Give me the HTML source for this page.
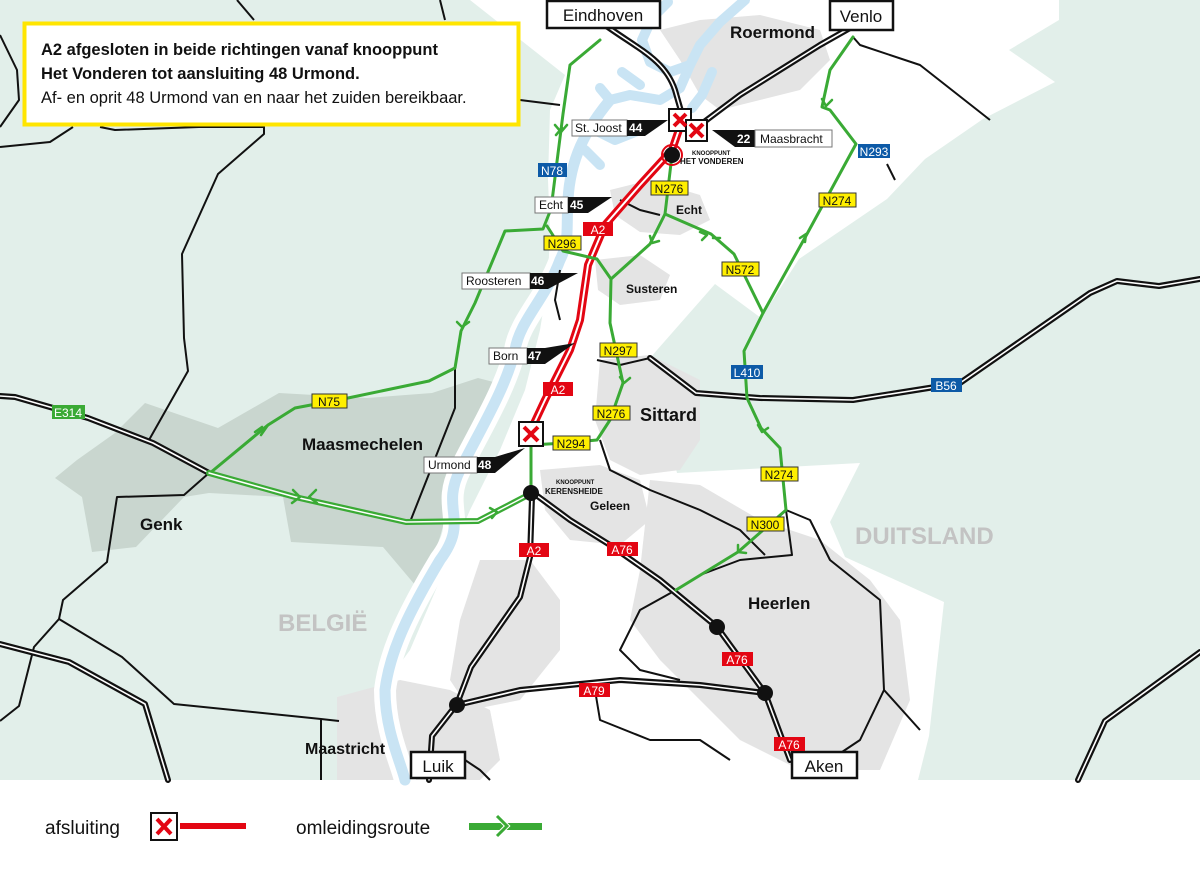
<!DOCTYPE html>
<html><head><meta charset="utf-8"><style>
html,body{margin:0;padding:0;background:#fff}
svg{display:block;font-family:"Liberation Sans",sans-serif}
</style></head><body>
<svg width="1200" height="875" viewBox="0 0 1200 875" xmlns="http://www.w3.org/2000/svg">
<rect x="0" y="0" width="1200" height="780" fill="#e2efea"/>
<!-- NL white -->
<polygon fill="#fff" points="470,0 1059,0 1059,20 1009,50 1055,82 983,119 925,159 887,199 799,259 761,318 715,284 650,358 677,473 860,463 830,522 845,557 944,602 929,736 918,780 337,780 337,697 383,687 410,650 440,580 470,510 500,450 525,390 540,330 548,280 550,230 548,180 550,110 565,75"/>
<!-- Belgian urban -->
<polygon fill="#c9d6cf" points="77,460 115,433 145,403 218,428 279,393 367,398 432,393 478,378 509,386 459,468 440,537 421,592 383,547 291,542 283,497 209,493 184,497 136,547 92,552 82,497 55,478"/>
<!-- urban gray -->
<g fill="#e4e4e4">
<polygon points="660,30 700,20 760,15 820,30 830,60 800,90 760,100 720,110 700,95 680,60"/>
<polygon points="610,190 650,180 700,195 710,220 680,235 640,232 615,215"/>
<polygon points="595,260 640,255 670,275 660,300 620,305 598,290"/>
<polygon points="600,360 650,355 700,380 700,440 680,470 640,475 610,460 595,420"/>
<polygon points="540,470 600,465 640,480 650,520 620,545 570,540 545,510"/>
<polygon points="650,480 700,485 760,520 820,540 870,580 900,620 910,700 880,770 800,770 740,740 700,700 660,660 630,620 640,570"/>
<polygon points="480,560 530,560 560,600 560,650 520,700 470,710 450,680 460,620"/>
<polygon points="337,697 400,680 450,690 490,710 500,760 480,780 337,780"/>
</g>
<!-- river -->
<g fill="none" stroke-linecap="round" stroke-linejoin="round">
<path d="M610,100 C585,130 570,160 568,200 C566,230 570,240 560,260 C545,300 520,320 515,350 C505,390 480,430 460,470 C440,510 470,520 440,560 C410,610 390,650 385,690 C385,730 400,760 405,780" stroke="#fff" stroke-width="22"/>
<path d="M610,100 C585,130 570,160 568,200 C566,230 570,240 560,260 C545,300 520,320 515,350 C505,390 480,430 460,470 C440,510 470,520 440,560 C410,610 390,650 385,690 C385,730 400,760 405,780" stroke="#c9e4f4" stroke-width="11"/>
<g stroke="#c9e4f4" stroke-width="10">
<path d="M745,0 L720,22 L700,45 L690,65 L670,72 L650,62 L642,40 L652,18 L668,2"/>
<path d="M690,65 L680,88 L660,100 L630,95 L610,100"/>
<path d="M640,85 L622,72"/>
<path d="M712,72 L702,95 L692,108"/>
<path d="M610,100 L600,88 M595,130 L615,140 L640,130"/>
<path d="M585,150 L600,165"/>
</g>
</g>
<!-- thin black roads -->
<g fill="none" stroke="#111" stroke-width="2" stroke-linejoin="round">
<path d="M0,35 L17,70 L19,100 L0,127"/>
<path d="M0,147 L50,142 L73,127"/>
<path d="M100,127 L115,130 L199,127 L264,127 L264,134 L218,174 L182,254 L184,338 L188,371 L149,440"/>
<path d="M237,0 L254,20"/>
<path d="M440,0 L445,20"/>
<path d="M209,473 L184,495 L117,497 L107,562 L63,600 L59,619 L34,647 L19,706 L0,721"/>
<path d="M59,619 L122,657 L174,704 L321,719 L339,721 M321,719 L321,780"/>
<path d="M455,368 L455,408 L410,522"/>
<path d="M520,100 L560,105"/>
<path d="M660,215 L640,210 L620,200"/>
<path d="M853,37 L860,45 L920,65 L990,120"/>
<path d="M887,164 L895,180"/>
<path d="M650,358 L620,365 L597,360"/>
<path d="M600,440 L610,470 L650,490 L700,510 L740,530 L765,555"/>
<path d="M786,510 L810,520 L830,560 L880,600 L884,690 L860,740 L830,760"/>
<path d="M786,510 L792,555 L740,560 L700,575 M676,590 L640,610 L620,650 L640,670 L680,680"/>
<path d="M884,690 L920,730"/>
<path d="M595,690 L600,720 L650,740 L700,740 L730,760"/>
<path d="M465,760 L480,770 L490,780"/>
<path d="M560,270 L555,300 L560,320"/>
</g>
<!-- motorways (double) -->
<g fill="none" stroke-linejoin="round" stroke-linecap="round">
<g stroke="#111" stroke-width="6">
<path d="M605,25 C640,50 665,60 675,90 L683,118"/>
<path d="M850,28 L820,45 L780,70 L740,95 L700,125"/>
<path d="M0,396 L15,397 L88,418 L153,443 L209,473"/>
<path d="M0,644 L69,662 L145,704 L168,780"/>
<path d="M532,497 L530,557 L520,597 L471,667 L457,704 L432,736 L429,780"/>
<path d="M532,492 L570,520 L610,545 L660,580 L717,627 L765,693 L790,760"/>
<path d="M457,705 L520,690 L620,680 L700,685 L765,693"/>
<path d="M650,358 L696,393 L760,398 L853,400 L960,383 L1090,293 L1117,281 L1159,286 L1200,279"/>
<path d="M1200,652 L1105,721 L1078,780"/>
</g>
<g stroke="#fff" stroke-width="1.6">
<path d="M605,25 C640,50 665,60 675,90 L683,118"/>
<path d="M850,28 L820,45 L780,70 L740,95 L700,125"/>
<path d="M0,396 L15,397 L88,418 L153,443 L209,473"/>
<path d="M0,644 L69,662 L145,704 L168,780"/>
<path d="M532,497 L530,557 L520,597 L471,667 L457,704 L432,736 L429,780"/>
<path d="M532,492 L570,520 L610,545 L660,580 L717,627 L765,693 L790,760"/>
<path d="M457,705 L520,690 L620,680 L700,685 L765,693"/>
<path d="M650,358 L696,393 L760,398 L853,400 L960,383 L1090,293 L1117,281 L1159,286 L1200,279"/>
<path d="M1200,652 L1105,721 L1078,780"/>
</g>
<!-- red A2 -->
<path d="M683,118 L672,150 L640,185 L605,225 L588,265 L580,320 L570,350 L545,400 L530,432" stroke="#e30613" stroke-width="8"/>
<path d="M683,118 L672,150 L640,185 L605,225 L588,265 L580,320 L570,350 L545,400 L530,432" stroke="#fff" stroke-width="2"/>
<!-- green detour -->
<g stroke="#3aaa35" stroke-width="3">
<path d="M600,40 L570,65 L563,114 L551,209 L543,229 L505,231 L475,303 L461,331 L455,368 L429,381 L348,398 L295,408 L268,425 L210,473"/>
<path d="M547,226 L563,251 L597,259 L611,279 L610,323 L623,383 L610,420 L597,440 L565,443 L531,445 L531,492"/>
<path d="M672,155 L665,214 L650,244 L611,279"/>
<path d="M665,214 L711,234 L734,254 L763,313 L807,234 L856,144 L830,110 L822,107 L830,70 L853,37"/>
<path d="M763,313 L744,351 L747,398 L761,428 L780,448 L786,510 L738,552 L676,590"/>
</g>
<path d="M209,473 L295,497 L406,522 L478,521 L509,505 L532,493" stroke="#3aaa35" stroke-width="6"/>
<path d="M209,473 L295,497 L406,522 L478,521 L509,505 L532,493" stroke="#fff" stroke-width="1.5"/>
<g stroke="#3aaa35" stroke-width="2.5">
<path d="M293,490 L300,497 L292,503 M316,490 L309,497 L317,503"/>
<path d="M255,432 L262,427 M268,425 L261,435"/>
<path d="M555,125 L561,132 L567,125 M556,135 L562,128"/>
<path d="M457,322 L462,327 L469,322"/>
<path d="M490,508 L497,512 L492,518"/>
<path d="M650,236 L652,243 L659,241"/>
<path d="M700,232 L707,235 L702,240 M720,238 L713,238"/>
<path d="M800,238 L806,234 L805,242"/>
<path d="M822,99 L826,106 L832,100"/>
<path d="M620,377 L624,383 L630,378"/>
<path d="M758,425 L762,432 L768,428"/>
<path d="M738,545 L738,552 L746,553"/>
</g>
</g>
<!-- junction dots -->
<g fill="#111">
<circle cx="672" cy="155" r="8"/><circle cx="531" cy="493" r="8"/>
<circle cx="717" cy="627" r="8"/><circle cx="765" cy="693" r="8"/><circle cx="457" cy="705" r="8"/>
</g>
<circle cx="672" cy="155" r="10" fill="none" stroke="#e30613" stroke-width="2"/>
<!-- notice -->
<rect x="24.5" y="23.5" width="494" height="101" fill="#fff" stroke="#ffe500" stroke-width="4"/>
<text x="41" y="55" font-size="16.5" font-weight="bold" fill="#111">A2 afgesloten in beide richtingen vanaf knooppunt</text>
<text x="41" y="79" font-size="16.5" font-weight="bold" fill="#111">Het Vonderen tot aansluiting 48 Urmond.</text>
<text x="41" y="103" font-size="16.5" fill="#111">Af- en oprit 48 Urmond van en naar het zuiden bereikbaar.</text>
<!-- city boxes -->
<g font-size="17" fill="#111" text-anchor="middle">
<rect x="547" y="1" width="113" height="27" fill="#fff" stroke="#111" stroke-width="2.5"/><text x="603" y="21">Eindhoven</text>
<rect x="830" y="1" width="63" height="29" fill="#fff" stroke="#111" stroke-width="2.5"/><text x="861" y="22">Venlo</text>
<rect x="411" y="752" width="54" height="26" fill="#fff" stroke="#111" stroke-width="2.5"/><text x="438" y="772">Luik</text>
<rect x="792" y="752" width="65" height="26" fill="#fff" stroke="#111" stroke-width="2.5"/><text x="824" y="772">Aken</text>
</g>
<!-- exit labels -->
<g font-size="12" fill="#111">
<polygon points="645,120 668,120 645,136" fill="#111"/>
<rect x="572" y="120" width="55" height="16" fill="#fff" stroke="#777"/><rect x="627" y="120" width="18" height="16" fill="#111"/>
<text x="575" y="132">St. Joost</text><text x="629" y="132" fill="#fff" font-weight="bold">44</text>
<polygon points="735,130 712,130 735,147" fill="#111"/>
<rect x="735" y="130" width="20" height="17" fill="#111"/><rect x="755" y="130" width="77" height="17" fill="#fff" stroke="#777"/>
<text x="737" y="143" fill="#fff" font-weight="bold">22</text><text x="760" y="143">Maasbracht</text>
<rect x="535" y="197" width="33" height="16" fill="#fff" stroke="#777"/><rect x="568" y="197" width="20" height="16" fill="#111"/><polygon points="588,197 612,197 588,213" fill="#111"/>
<text x="539" y="209">Echt</text><text x="570" y="209" fill="#fff" font-weight="bold">45</text>
<rect x="462" y="273" width="68" height="16" fill="#fff" stroke="#777"/><rect x="530" y="273" width="18" height="16" fill="#111"/><polygon points="548,273 578,273 548,289" fill="#111"/>
<text x="466" y="285">Roosteren</text><text x="531" y="285" fill="#fff" font-weight="bold">46</text>
<rect x="489" y="348" width="38" height="16" fill="#fff" stroke="#777"/><rect x="527" y="348" width="18" height="16" fill="#111"/><polygon points="545,348 575,343 545,364" fill="#111"/>
<text x="493" y="360">Born</text><text x="528" y="360" fill="#fff" font-weight="bold">47</text>
<rect x="424" y="457" width="53" height="16" fill="#fff" stroke="#777"/><rect x="477" y="457" width="18" height="16" fill="#111"/><polygon points="495,457 525,448 495,473" fill="#111"/>
<text x="428" y="469">Urmond</text><text x="478" y="469" fill="#fff" font-weight="bold">48</text>
</g>
<!-- road shields -->
<g font-size="12" text-anchor="middle">
<g fill="#ffef00" stroke="#333" stroke-width="1">
<rect x="651" y="181" width="37" height="14"/><rect x="544" y="236" width="37" height="14"/><rect x="600" y="343" width="37" height="14"/>
<rect x="593" y="406" width="37" height="14"/><rect x="553" y="436" width="37" height="14"/><rect x="722" y="262" width="37" height="14"/>
<rect x="819" y="193" width="37" height="14"/><rect x="761" y="467" width="37" height="14"/><rect x="747" y="517" width="37" height="14"/>
<rect x="312" y="394" width="35" height="14"/>
</g>
<g fill="#111">
<text x="669" y="193">N276</text><text x="562" y="248">N296</text><text x="618" y="355">N297</text>
<text x="611" y="418">N276</text><text x="571" y="448">N294</text><text x="740" y="274">N572</text>
<text x="837" y="205">N274</text><text x="779" y="479">N274</text><text x="765" y="529">N300</text><text x="329" y="406">N75</text>
</g>
<g fill="#0d5aa7"><rect x="538" y="163" width="29" height="14"/><rect x="858" y="144" width="32" height="14"/><rect x="731" y="365" width="32" height="14"/><rect x="931" y="378" width="31" height="14"/></g>
<g fill="#3aaa35"><rect x="52" y="405" width="33" height="14"/></g>
<g fill="#fff"><text x="552" y="175">N78</text><text x="874" y="156">N293</text><text x="747" y="377">L410</text><text x="946" y="390">B56</text><text x="68" y="417">E314</text></g>
<g fill="#e30613"><rect x="583" y="222" width="30" height="14"/><rect x="543" y="382" width="30" height="14"/><rect x="519" y="543" width="30" height="14"/><rect x="607" y="542" width="31" height="14"/><rect x="722" y="652" width="31" height="14"/><rect x="579" y="683" width="31" height="14"/><rect x="774" y="737" width="31" height="14"/></g>
<g fill="#fff"><text x="598" y="234">A2</text><text x="558" y="394">A2</text><text x="534" y="555">A2</text><text x="622" y="554">A76</text><text x="737" y="664">A76</text><text x="594" y="695">A79</text><text x="789" y="749">A76</text></g>
</g>
<!-- closure X -->
<g>
<rect x="669" y="109" width="22" height="22" fill="#fff" stroke="#111" stroke-width="2"/>
<rect x="686" y="120" width="21" height="21" fill="#fff" stroke="#111" stroke-width="2"/>
<rect x="519" y="422" width="24" height="24" fill="#fff" stroke="#111" stroke-width="2"/>
<path d="M674,114 L686,126 M686,114 L674,126 M690,124 L703,137 M703,124 L690,137 M524,427 L538,441 M538,427 L524,441" stroke="#e30613" stroke-width="4"/>
</g>
<!-- place names -->
<g fill="#111" font-weight="bold">
<text x="730" y="38" font-size="17">Roermond</text>
<text x="676" y="214" font-size="12">Echt</text>
<text x="626" y="293" font-size="12">Susteren</text>
<text x="640" y="421" font-size="18">Sittard</text>
<text x="590" y="510" font-size="12">Geleen</text>
<text x="748" y="609" font-size="17">Heerlen</text>
<text x="305" y="754" font-size="16">Maastricht</text>
<text x="302" y="450" font-size="17">Maasmechelen</text>
<text x="140" y="530" font-size="17">Genk</text>
<text x="692" y="155" font-size="6">KNOOPPUNT</text>
<text x="680" y="164" font-size="8">HET VONDEREN</text>
<text x="556" y="484" font-size="6">KNOOPPUNT</text>
<text x="545" y="494" font-size="8">KERENSHEIDE</text>
<text x="278" y="631" font-size="24" fill="#c3c3c3">BELGIË</text>
<text x="855" y="544" font-size="24" fill="#c3c3c3">DUITSLAND</text>
</g>
<!-- legend -->
<text x="45" y="834" font-size="19" fill="#111">afsluiting</text>
<rect x="151" y="813" width="26" height="27" fill="#fff" stroke="#111" stroke-width="2"/>
<path d="M157,819 L171,834 M171,819 L157,834" stroke="#e30613" stroke-width="4"/>
<rect x="180" y="823" width="66" height="6" fill="#e30613"/>
<text x="296" y="834" font-size="19" fill="#111">omleidingsroute</text>
<rect x="469" y="823" width="73" height="7" fill="#3aaa35"/>
<path d="M497,816 L507,826 L497,836" stroke="#fff" stroke-width="5" fill="none"/>
<path d="M497,816 L507,826 L497,836" stroke="#3aaa35" stroke-width="3" fill="none"/>
</svg>
</body></html>
